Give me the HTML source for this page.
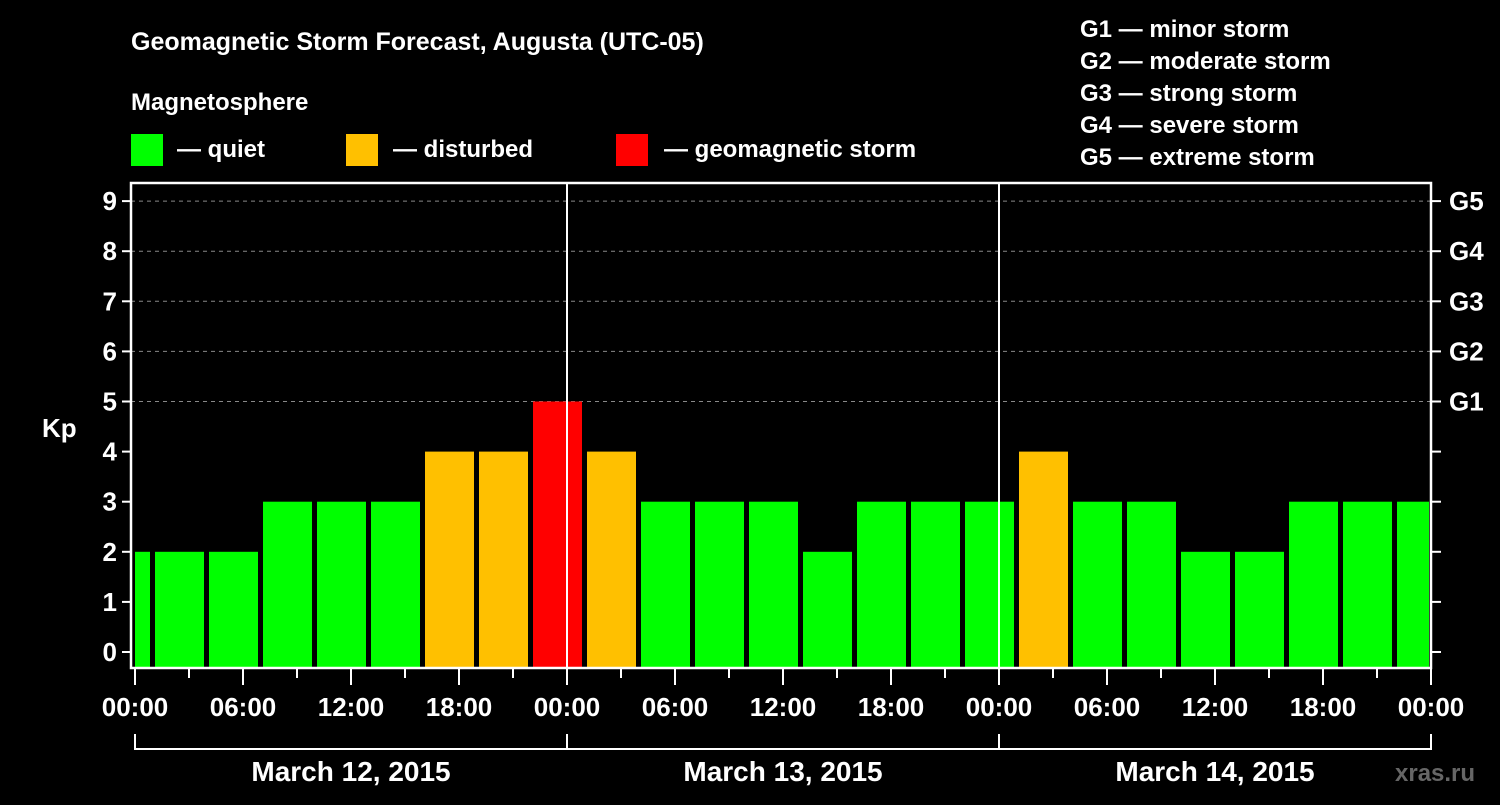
<!DOCTYPE html>
<html><head><meta charset="utf-8"><style>
body{margin:0;background:#000;width:1500px;height:800px;overflow:hidden;font-family:"Liberation Sans",Arial,sans-serif}
svg text{font-family:"Liberation Sans",Arial,sans-serif;font-weight:bold;fill:#fff}
</style></head><body>
<svg id="chart" width="1500" height="800" xmlns="http://www.w3.org/2000/svg">
<text x="131" y="50" font-size="25">Geomagnetic Storm Forecast, Augusta (UTC-05)</text>
<text x="131" y="110" font-size="24">Magnetosphere</text>
<g>
<rect x="131" y="134" width="32" height="32" fill="#00ff00"/>
<text x="177" y="157" font-size="24">— quiet</text>
<rect x="346" y="134" width="32" height="32" fill="#ffc000"/>
<text x="393" y="157" font-size="24">— disturbed</text>
<rect x="616" y="134" width="32" height="32" fill="#ff0000"/>
<text x="664" y="157" font-size="24">— geomagnetic storm</text>
</g>
<g font-size="24">
<text x="1080" y="37">G1 — minor storm</text>
<text x="1080" y="69">G2 — moderate storm</text>
<text x="1080" y="101">G3 — strong storm</text>
<text x="1080" y="133">G4 — severe storm</text>
<text x="1080" y="165">G5 — extreme storm</text>
</g>
<text x="42" y="437" font-size="26">Kp</text>
<text x="1395" y="781" font-size="24" style="fill:#666">xras.ru</text>
<g id="grid"></g><g id="bars"></g><g id="axes"></g>
</svg>
<script>
const values = [2,2,2,3,3,3,4,4,5,4,3,3,3,2,3,3,3,4,3,3,2,2,3,3,3];
const startHour = -2;
const hourTicks = ["00:00","06:00","12:00","18:00","00:00","06:00","12:00","18:00","00:00","06:00","12:00","18:00","00:00"];
const dayLabels = ["March 12, 2015","March 13, 2015","March 14, 2015"];
const gLabels = ["G1","G2","G3","G4","G5"];
const NS="http://www.w3.org/2000/svg";
const L=131,R=1431,T=183,B=668,X0=135;
const x=h=>X0+18*h;
const y=v=>652-50.1*v;
function mk(tag,attrs,parent,txt){const e=document.createElementNS(NS,tag);for(const k in attrs)e.setAttribute(k,attrs[k]);if(txt!==undefined)e.textContent=txt;document.getElementById(parent).appendChild(e);return e;}
for(let v=5;v<=9;v++){
  const l=mk('line',{x1:L,x2:R,y1:y(v),y2:y(v),stroke:'#888','stroke-dasharray':'4,4','stroke-width':1},'grid');
  
  
}
values.forEach((v,i)=>{
  const h=startHour+3*i;
  let x1=Math.max(x(h)+2,L+4),x2=Math.min(x(h+3)-3,R-2);
  const c=v>=5?'#ff0000':v>=4?'#ffc000':'#00ff00';
  const r=mk('rect',{x:x1,y:y(v),width:x2-x1,height:B-y(v),fill:c},'bars');
  
  
});
mk('rect',{x:L,y:T,width:R-L,height:B-T,fill:'none',stroke:'#fff','stroke-width':2.5},'axes');
for(let d=1;d<3;d++){const l=mk('line',{x1:x(24*d),x2:x(24*d),y1:T,y2:B,stroke:'#fff','stroke-width':2},'axes');}
for(let v=0;v<=9;v++){
  mk('line',{x1:L-9,x2:L,y1:y(v),y2:y(v),stroke:'#fff','stroke-width':2},'axes');
  mk('line',{x1:R,x2:R+10,y1:y(v),y2:y(v),stroke:'#fff','stroke-width':2},'axes');
  const t=mk('text',{x:L-14,y:y(v)+9,'font-size':26,'text-anchor':'end'},'axes',String(v));
  
  
}
gLabels.forEach((g,i)=>{
  const t=mk('text',{x:R+18,y:y(5+i)+9,'font-size':26},'axes',g);
  
  
});
for(let h=0;h<=72;h+=3){
  const major=h%6===0;
  mk('line',{x1:x(h),x2:x(h),y1:B,y2:B+(major?17:10),stroke:'#fff','stroke-width':2},'axes');
}
hourTicks.forEach((s,i)=>{
  const t=mk('text',{x:x(6*i),y:716,'font-size':26,'text-anchor':'middle'},'axes',s);
  
  
});
mk('polyline',{points:`${x(0)},734 ${x(0)},749 ${x(72)},749 ${x(72)},734`,fill:'none',stroke:'#fff','stroke-width':2},'axes');
for(let d=1;d<3;d++)mk('line',{x1:x(24*d),x2:x(24*d),y1:734,y2:749,stroke:'#fff','stroke-width':2},'axes');
dayLabels.forEach((s,i)=>{
  const t=mk('text',{x:x(24*i+12),y:781,'font-size':28,'text-anchor':'middle'},'axes',s);
  
  
});
</script>
</body></html>
